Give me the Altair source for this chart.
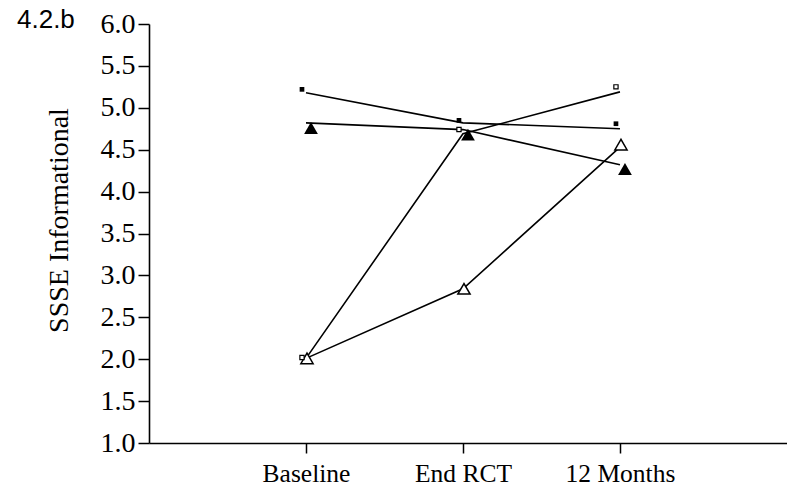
import altair as alt
import pandas as pd

# Assessment points along the x axis
stages = ["Baseline", "End RCT", "12 Months"]
stage_pos = [1, 2, 3]

# Group trajectories (line vertices)
line_filled_square = [5.18, 4.82, 4.75]
line_open_square = [2.01, 4.69, 5.19]
line_filled_triangle = [4.82, 4.74, 4.32]
line_open_triangle = [2.01, 2.84, 4.53]

# Group means (plotted symbols)
pt_filled_square = [5.22, 4.85, 4.81]
pt_open_square = [2.02, 4.74, 5.25]
pt_filled_triangle = [4.76, 4.68, 4.27]
pt_open_triangle = [2.01, 2.84, 4.56]

y_ticks = [1.0, 1.5, 2.0, 2.5, 3.0, 3.5, 4.0, 4.5, 5.0, 5.5, 6.0]
panel_label = "4.2.b"
y_title = "SSSE Informational"

SERIF = "Liberation Serif"


def frame(values, name):
    return pd.DataFrame({"pos": stage_pos, "value": values, "series": name})


lines_df = pd.concat([
    frame(line_filled_square, "filled square"),
    frame(line_open_square, "open square"),
    frame(line_filled_triangle, "filled triangle"),
    frame(line_open_triangle, "open triangle"),
])

label_expr = " : ".join(
    f"datum.value == {p} ? '{s}'" for p, s in zip(stage_pos[:-1], stages[:-1])
) + f" : '{stages[-1]}'"

x_enc = alt.X(
    "pos:Q",
    scale=alt.Scale(domain=[0, 4.064], nice=False, zero=False),
    axis=alt.Axis(
        values=stage_pos, labelExpr=label_expr, title=None, grid=False,
        tickSize=10, labelPadding=8, labelFontSize=25.5, labelFont=SERIF,
    ),
)
y_enc = alt.Y(
    "value:Q",
    scale=alt.Scale(domain=[1, 6], nice=False, zero=False),
    axis=alt.Axis(
        values=y_ticks, format=".1f", title=y_title, grid=False,
        tickSize=11, labelPadding=3, labelFontSize=28, labelFont=SERIF,
        titleFont=SERIF, titleFontSize=28, titleFontWeight="normal",
        titleAngle=-90, titleX=-90, titleY=196, titleBaseline="middle",
        titleAlign="center",
    ),
)

lines = alt.Chart(lines_df).mark_line(color="black", strokeWidth=1.6).encode(
    x=x_enc, y=y_enc, detail="series:N"
)

filled_sq = alt.Chart(frame(pt_filled_square, "filled square")).mark_point(
    shape="square", filled=True, color="black", opacity=1, size=22, xOffset=-4
).encode(x="pos:Q", y="value:Q")

open_sq = alt.Chart(frame(pt_open_square, "open square")).mark_point(
    shape="square", filled=True, fill="white", stroke="black", strokeWidth=1.2,
    opacity=1, size=18, xOffset=-4
).encode(x="pos:Q", y="value:Q")

filled_tri = alt.Chart(frame(pt_filled_triangle, "filled triangle")).mark_point(
    shape="triangle-up", filled=True, color="black", opacity=1, size=190, xOffset=5
).encode(x="pos:Q", y="value:Q")

open_tri = alt.Chart(frame(pt_open_triangle, "open triangle")).mark_point(
    shape="triangle-up", filled=True, fill="white", stroke="black", strokeWidth=1.5,
    opacity=1, size=150, xOffset=1
).encode(x="pos:Q", y="value:Q")

label = alt.Chart(pd.DataFrame({"t": [panel_label]})).mark_text(
    align="left", baseline="alphabetic", font="Liberation Sans", fontSize=26,
    color="black"
).encode(x=alt.value(-132), y=alt.value(4), text="t:N")

chart = alt.layer(lines, open_tri, filled_tri, open_sq, filled_sq, label).properties(
    width=638,
    height=419,
    autosize=alt.AutoSizeParams(type="none"),
    padding={"left": 149, "top": 24, "right": 0, "bottom": 53},
    background="white",
).configure_view(stroke=None).configure_axis(
    domainColor="black", tickColor="black", labelColor="black", titleColor="black",
    domainWidth=1.6, tickWidth=1.5,
)

chart.save("out.html", embed_options={"renderer": "svg", "actions": False})
